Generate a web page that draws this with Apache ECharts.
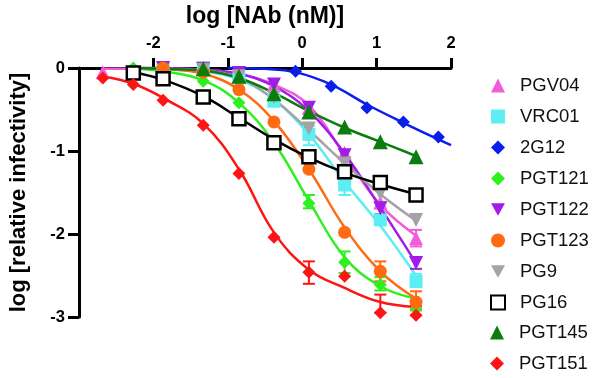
<!DOCTYPE html>
<html>
<head>
<meta charset="utf-8">
<script src="https://cdn.jsdelivr.net/npm/echarts@6/dist/echarts.min.js"></script>
<style>
  html, body { margin: 0; padding: 0; background: #fff; }
  #chart { width: 600px; height: 378px; }
</style>
</head>
<body>
<div id="chart"></div>
<script>
// log10 concentration of each dilution (nM)
var xGrid = [-2.68, -2.27, -1.87, -1.33, -0.85, -0.38, 0.09, 0.57, 1.05, 1.53];
var xTicks = [-2, -1, 0, 1, 2];
var yTicks = [0, -1, -2, -3];

var pgv04Pts = [-0.05, -0.05, -0.01, 0, -0.05, -0.2, -0.48, -1.02, -1.62, -2.05];
var pgv04Fit = [-0.01, -0.01, -0.01, -0.02, -0.07, -0.2, -0.45, -1.05, -1.65, -2.02];
var vrc01Pts = [null, null, 0, 0, -0.12, -0.40, -0.80, -1.41, -1.83, -2.57];
var vrc01Fit = [null, 0, -0.01, -0.04, -0.14, -0.38, -0.80, -1.37, -1.90, -2.50];
var g12X = [-0.09, 0.39, 0.87, 1.36, 1.83];
var g12Pts = [-0.04, -0.22, -0.48, -0.65, -0.83];
var g12FitX = [-1.0, -0.5, -0.09, 0.39, 0.87, 1.36, 1.83, 2.0];
var g12Fit = [0, -0.01, -0.05, -0.2, -0.44, -0.66, -0.86, -0.93];
var pgt121Pts = [null, 0, -0.03, -0.16, -0.42, -0.91, -1.63, -2.34, -2.61, -2.9];
var pgt121Fit = [null, -0.01, -0.04, -0.15, -0.42, -0.90, -1.60, -2.28, -2.63, -2.78];
var pgt122Pts = [null, null, 0, -0.01, -0.06, -0.20, -0.48, -1.05, -1.69, -2.35];
var pgt122Fit = [null, 0, 0, -0.02, -0.07, -0.22, -0.52, -1.03, -1.68, -2.35];
var pgt123Pts = [null, null, 0.0, -0.05, -0.26, -0.65, -1.22, -1.98, -2.45, -2.82];
var pgt123Fit = [null, 0, -0.01, -0.07, -0.26, -0.64, -1.22, -1.92, -2.45, -2.78];
var pg9Pts = [null, null, null, -0.02, -0.10, -0.35, -0.73, -1.15, -1.51, -1.83];
var pg9Fit = [null, 0, -0.01, -0.03, -0.12, -0.38, -0.75, -1.15, -1.52, -1.84];
var pg16Pts = [null, -0.06, -0.13, -0.35, -0.61, -0.90, -1.07, -1.25, -1.38, -1.53];
var pg16Fit = [null, -0.05, -0.14, -0.34, -0.60, -0.86, -1.08, -1.26, -1.40, -1.52];
var pgt145Pts = [null, null, null, -0.01, -0.10, -0.31, -0.53, -0.71, -0.89, -1.07];
var pgt145Fit = [null, 0, -0.01, -0.03, -0.12, -0.30, -0.52, -0.72, -0.89, -1.06];
var pgt151Pts = [-0.12, -0.20, -0.39, -0.69, -1.27, -2.04, -2.46, -2.51, -2.95, -2.98];
var pgt151Fit = [-0.10, -0.19, -0.36, -0.67, -1.22, -1.98, -2.43, -2.65, -2.82, -2.88];

// error bars: [x, low, high]
var pgv04Err = [[1.53, -2.15, -1.95]];
var vrc01Err = [[0.09, -0.93, -0.70], [0.57, -1.53, -1.29], [1.53, -2.64, -2.48]];
var pgt121Err = [[0.09, -1.69, -1.53], [0.57, -2.47, -2.21], [1.05, -2.68, -2.52]];
var pgt122Err = [[1.05, -1.76, -1.62], [1.53, -2.42, -2.28]];
var pgt123Err = [[1.05, -2.57, -2.33], [1.53, -2.92, -2.69]];
var pgt151Err = [[0.09, -2.60, -2.33], [1.05, -2.95, -2.73], [1.53, -2.98, -2.87]];

var downTri = 'path://M0,0L10,0L5,9Z';
var font = 'Liberation Sans, Arial, sans-serif';

var antibodies = [
  {name: 'PGV04', color: '#F25CDB', symbol: 'triangle', size: 14, pts: pgv04Pts, fit: pgv04Fit, err: pgv04Err},
  {name: 'VRC01', color: '#5CEEF2', symbol: 'rect', size: 13, pts: vrc01Pts, fit: vrc01Fit, err: vrc01Err},
  {name: '2G12', color: '#0A1EEB', symbol: 'diamond', size: 13, x: g12X, pts: g12Pts, fitX: g12FitX, fit: g12Fit},
  {name: 'PGT121', color: '#2EF01E', symbol: 'diamond', size: 13, pts: pgt121Pts, fit: pgt121Fit, err: pgt121Err},
  {name: 'PGT122', color: '#A21CE8', symbol: downTri, size: 14, pts: pgt122Pts, fit: pgt122Fit, err: pgt122Err},
  {name: 'PGT123', color: '#FF6A12', symbol: 'circle', size: 13, pts: pgt123Pts, fit: pgt123Fit, err: pgt123Err},
  {name: 'PG9', color: '#A2A2A8', symbol: downTri, size: 14, pts: pg9Pts, fit: pg9Fit},
  {name: 'PG16', color: '#000000', symbol: 'rect', size: 13, open: true, pts: pg16Pts, fit: pg16Fit},
  {name: 'PGT145', color: '#0C7C0C', symbol: 'triangle', size: 15, pts: pgt145Pts, fit: pgt145Fit},
  {name: 'PGT151', color: '#FF1414', symbol: 'diamond', size: 13, pts: pgt151Pts, fit: pgt151Fit, err: pgt151Err}
];

function pairs(xs, ys) {
  var out = [];
  for (var i = 0; i < ys.length; i++) {
    if (ys[i] !== null) out.push([xs[i], ys[i]]);
  }
  return out;
}

function errRender(color) {
  return function (params, api) {
    var x = api.value(0);
    var lo = api.coord([x, api.value(1)]);
    var hi = api.coord([x, api.value(2)]);
    var w = 6;
    var style = {stroke: color, lineWidth: 2};
    return {
      type: 'group',
      children: [
        {type: 'line', shape: {x1: lo[0], y1: lo[1], x2: hi[0], y2: hi[1]}, style: style},
        {type: 'line', shape: {x1: lo[0] - w, y1: lo[1], x2: lo[0] + w, y2: lo[1]}, style: style},
        {type: 'line', shape: {x1: hi[0] - w, y1: hi[1], x2: hi[0] + w, y2: hi[1]}, style: style}
      ]
    };
  };
}

var series = [];
// fitted curves underneath
antibodies.forEach(function (ab) {
  series.push({
    type: 'line',
    data: pairs(ab.fitX || xGrid, ab.fit),
    smooth: 0.4,
    showSymbol: false,
    clip: false,
    silent: true,
    lineStyle: {color: ab.color, width: 2.5},
    z: 2
  });
});
antibodies.forEach(function (ab) {
  if (ab.err) {
    series.push({
      type: 'custom',
      data: ab.err,
      renderItem: errRender(ab.color),
      clip: false,
      silent: true,
      z: 3
    });
  }
});
antibodies.forEach(function (ab) {
  series.push({
    name: ab.name,
    type: 'scatter',
    data: pairs(ab.x || xGrid, ab.pts),
    symbol: ab.symbol,
    symbolSize: ab.size,
    clip: false,
    itemStyle: ab.open
      ? {color: '#ffffff', borderColor: ab.color, borderWidth: 2.5, opacity: 1}
      : {color: ab.color, opacity: 1},
    z: 4
  });
});

var legendText = {fontFamily: font, fontSize: 18.5, color: '#111', lineHeight: 18, padding: [0, 0, 0, 10]};
function legendItems(names) {
  return names.map(function (n) {
    var ab = antibodies.filter(function (a) { return a.name === n; })[0];
    return {name: n, icon: ab.symbol};
  });
}

var chartDom = document.getElementById('chart');
var myChart = echarts.init(chartDom);
var option = {
  backgroundColor: '#ffffff',
  animation: false,
  grid: {left: 77, right: 149, top: 67, bottom: 61, containLabel: false},
  legend: [
    {
      orient: 'vertical', left: 490, top: 76, padding: 0, itemWidth: 14, itemHeight: 14, itemGap: 12,
      selectedMode: false, textStyle: legendText,
      data: legendItems(['PGV04', 'VRC01', '2G12', 'PGT121', 'PGT122', 'PGT123', 'PG9', 'PG16'])
    },
    {
      orient: 'vertical', left: 490, top: 323, padding: 0, itemWidth: 14, itemHeight: 14, itemGap: 12,
      selectedMode: false, textStyle: legendText,
      data: legendItems(['PGT145', 'PGT151'])
    }
  ],
  xAxis: {
    type: 'value',
    position: 'top',
    min: -3, max: 2, interval: 1,
    name: 'log [NAb (nM)]',
    nameLocation: 'middle',
    nameGap: 40,
    nameTextStyle: {fontFamily: font, fontSize: 23, fontWeight: 'bold', color: '#000'},
    axisLine: {show: true, onZero: false, lineStyle: {color: '#000', width: 3}},
    axisTick: {show: true, length: 10, customValues: xTicks, lineStyle: {color: '#000', width: 3}},
    axisLabel: {customValues: xTicks, margin: 16, fontFamily: font, fontSize: 16.5, fontWeight: 'bold', color: '#000'},
    splitLine: {show: false}
  },
  yAxis: {
    type: 'value',
    min: -3, max: 0, interval: 1,
    name: 'log [relative infectivity]',
    nameLocation: 'middle',
    nameRotate: 90,
    nameGap: 49,
    nameTextStyle: {fontFamily: font, fontSize: 22, fontWeight: 'bold', color: '#000'},
    axisLine: {show: true, onZero: false, lineStyle: {color: '#000', width: 3}},
    axisTick: {show: true, length: 11, customValues: yTicks, lineStyle: {color: '#000', width: 3}},
    axisLabel: {customValues: yTicks, margin: 14, fontFamily: font, fontSize: 16.5, fontWeight: 'bold', color: '#000'},
    splitLine: {show: false}
  },
  series: series
};

option && myChart.setOption(option);
window.addEventListener('resize', function () {
  myChart.resize();
});
</script>
</body>
</html>
